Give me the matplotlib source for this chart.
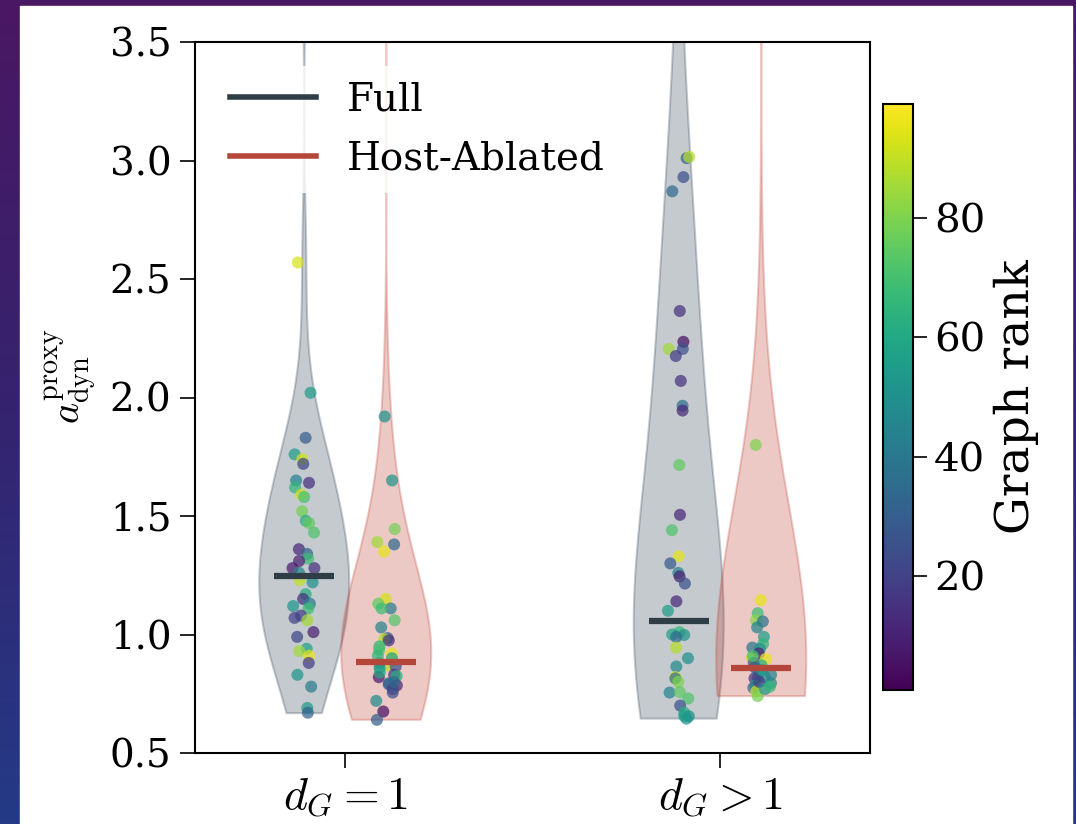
import numpy as np
import matplotlib
matplotlib.use("Agg")
import matplotlib.pyplot as plt
from matplotlib.lines import Line2D
from matplotlib.patches import Rectangle

plt.rcParams['font.family'] = ['DejaVu Serif']
plt.rcParams['mathtext.fontset'] = 'cm'

groups = ['$d_G = 1$', '$d_G > 1$']

# Full model, d_G = 1
full_g1 = [3.9, 2.57, 2.02, 1.83, 1.76, 1.74, 1.72, 1.65, 1.64, 1.62, 1.59, 1.58, 1.52, 1.48, 1.47, 1.43,
           1.36, 1.34, 1.32, 1.31, 1.28, 1.28, 1.26, 1.23, 1.22, 1.17, 1.15, 1.13, 1.12, 1.11, 1.08,
           1.07, 1.06, 1.01, 0.99, 0.94, 0.93, 0.91, 0.88, 0.83, 0.78, 0.69, 0.67]
full_g1_rank = [40, 93, 55, 30, 55, 92, 22, 45, 15, 65, 92, 70, 78, 62, 75, 72, 12, 32, 68, 10, 8, 15, 45,
                90, 50, 62, 15, 42, 52, 68, 18, 20, 85, 10, 22, 57, 85, 95, 18, 52, 42, 55, 32]

# Host-ablated, d_G = 1
host_g1 = [5.0, 1.92, 1.65, 1.445, 1.39, 1.38, 1.35, 1.15, 1.13, 1.11, 1.11, 1.06, 1.03, 0.985, 0.98,
           0.975, 0.95, 0.935, 0.92, 0.90, 0.87, 0.865, 0.86, 0.83, 0.82, 0.825, 0.795, 0.79, 0.785,
           0.77, 0.755, 0.72, 0.675, 0.64, 0.88, 0.84, 0.80, 0.91]
host_g1_rank = [40, 50, 52, 78, 85, 35, 95, 93, 75, 42, 68, 72, 45, 32, 88, 15, 65, 70, 95, 58, 88, 25,
                48, 15, 8, 62, 45, 28, 12, 18, 25, 48, 5, 30, 50, 60, 35, 66]

# Full model, d_G > 1
full_g2 = [7.0, 4.6, 3.01, 3.015, 2.93, 2.87, 2.365, 2.235, 2.205, 2.205, 2.175, 2.07, 1.965, 1.945,
           1.715, 1.505, 1.44, 1.33, 1.30, 1.26, 1.245, 1.215, 1.14, 1.10, 1.01, 1.0, 0.998, 0.99,
           0.945, 0.90, 0.865, 0.82, 0.815, 0.80, 0.755, 0.757, 0.73, 0.70, 0.67, 0.655, 0.645, 0.656]
full_g2_rank = [40, 20, 32, 88, 25, 35, 15, 5, 85, 25, 18, 15, 38, 12, 75, 12, 72, 95, 28, 45, 10,
                25, 12, 55, 65, 58, 52, 35, 88, 50, 48, 95, 38, 80, 45, 75, 72, 25, 62, 48, 50, 55]

# Host-ablated, d_G > 1
host_g2 = [7.0, 5.0, 1.80, 1.145, 1.09, 1.06, 1.055, 1.03, 0.99, 0.96, 0.945, 0.94, 0.92, 0.897, 0.90,
           0.88, 0.87, 0.84, 0.82, 0.815, 0.815, 0.795, 0.785, 0.775, 0.76, 0.74, 0.86, 0.85, 0.83,
           0.91, 0.80, 0.77, 0.78]
host_g2_rank = [40, 30, 80, 95, 68, 82, 38, 45, 55, 65, 40, 50, 10, 95, 90, 25, 62, 48, 50, 35, 18, 48,
                60, 35, 90, 78, 30, 55, 45, 70, 20, 52, 66]

median_full = [1.245, 1.055]
median_host = [0.885, 0.86]

c_full = '#2c3e50'
c_host = '#c0392b'
c_full_med = '#2f3e46'
c_host_med = '#b5473a'

fig = plt.figure(figsize=(10.76, 8.24), dpi=100)

# slide background behind the figure
bg = fig.add_axes([0, 0, 1, 1], zorder=-10)
grad = np.linspace(0, 1, 256).reshape(-1, 1)
cmap_bg = matplotlib.colors.LinearSegmentedColormap.from_list('bg', ['#4a1763', '#35236f', '#243a86'])
bg.imshow(grad, aspect='auto', cmap=cmap_bg, extent=[0, 1, 0, 1], origin='upper')
bg.add_patch(Rectangle((20 / 1076, 0), (1072 - 20) / 1076, (824 - 6) / 824, color='white'))
bg.set_xlim(0, 1)
bg.set_ylim(0, 1)
bg.axis('off')

ax = fig.add_axes([195 / 1076, 71 / 824, 675 / 1076, 711 / 824])
cax = fig.add_axes([883 / 1076, 134 / 824, 30 / 1076, 586 / 824])

off = 0.11
rng = np.random.default_rng(3)
norm = matplotlib.colors.Normalize(vmin=1, vmax=99)
sets = [(full_g1, full_g1_rank, 0 - off, c_full), (host_g1, host_g1_rank, 0 + off, c_host),
        (full_g2, full_g2_rank, 1 - off, c_full), (host_g2, host_g2_rank, 1 + off, c_host)]

for vals, ranks, pos, col in sets:
    vp = ax.violinplot([vals], positions=[pos], widths=0.24, showextrema=False)
    for b in vp['bodies']:
        b.set_facecolor(col)
        b.set_edgecolor(col)
        b.set_alpha(0.27)
        b.set_linewidth(1.5)
    jit = rng.uniform(-0.03, 0.03, len(vals))
    sc = ax.scatter(pos + jit, vals, c=ranks, cmap='viridis', norm=norm, s=75, alpha=0.72,
                    edgecolors='none', zorder=3)

for i in range(2):
    ax.hlines(median_full[i], i - off - 0.08, i - off + 0.08, color=c_full_med, lw=4.5, zorder=4)
    ax.hlines(median_host[i], i + off - 0.08, i + off + 0.08, color=c_host_med, lw=4.5, zorder=4)

ax.set_xlim(-0.4, 1.4)
ax.set_ylim(0.5, 3.5)
ax.set_xticks([0, 1])
ax.set_xticklabels(groups, fontsize=33)
ax.set_yticks([0.5, 1.0, 1.5, 2.0, 2.5, 3.0, 3.5])
ax.tick_params(axis='y', labelsize=28, length=11, width=1.2, pad=6)
ax.tick_params(axis='x', length=11, width=1.2, pad=5)
for s in ax.spines.values():
    s.set_linewidth(1.5)
ax.set_ylabel(r'$a_{\rm dyn}^{\rm proxy}$', fontsize=29, y=0.53, labelpad=8)

handles = [Line2D([], [], color=c_full_med, lw=4), Line2D([], [], color=c_host_med, lw=4)]
ax.legend(handles, ['Full', 'Host-Ablated'], loc='upper left', bbox_to_anchor=(0, 0.993),
          fontsize=28, framealpha=0.8, edgecolor='none', handlelength=2.2, labelspacing=0.55)

cb = fig.colorbar(sc, cax=cax)
cb.set_ticks([20, 40, 60, 80])
cb.ax.tick_params(labelsize=29, length=10, width=1.2, pad=5)
cb.outline.set_linewidth(1.5)
cb.set_label('Graph rank', fontsize=34, labelpad=6)
cb.solids.set_alpha(1)

fig.savefig('out.png', dpi=100)
